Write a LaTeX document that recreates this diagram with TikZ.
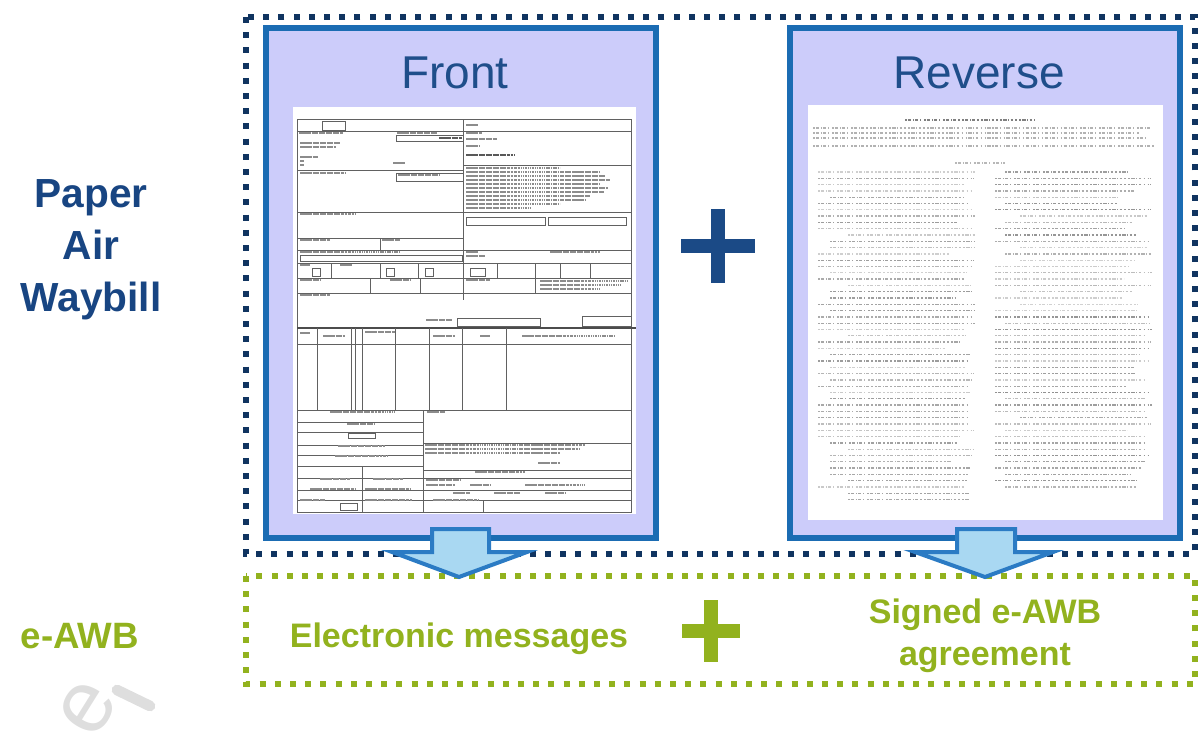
\documentclass[tikz,border=0pt]{standalone}
\usepackage{fontspec}
\setmainfont{Liberation Sans}
\definecolor{navy}{RGB}{16,52,96}
\definecolor{panelblue}{RGB}{27,108,179}
\definecolor{lav}{RGB}{204,204,250}
\definecolor{titleblue}{RGB}{31,78,138}
\definecolor{plusblue}{RGB}{27,74,134}
\definecolor{lblblue}{RGB}{24,69,130}
\definecolor{awbgreen}{RGB}{146,178,30}
\definecolor{arrowfill}{RGB}{169,216,242}
\definecolor{arrowblue}{RGB}{43,123,196}
\begin{document}
\begin{tikzpicture}[x=0.75pt,y=-0.75pt,
  navydots/.style={draw=navy,line width=4.5pt,dash pattern=on 4.5pt off 6.9pt},
  greendots/.style={draw=awbgreen,line width=4pt,dash pattern=on 4.5pt off 6.9pt},
  panel/.style={draw=panelblue,line width=4.5pt,fill=lav,minimum width=292.5pt,minimum height=382.5pt,inner sep=0pt},
  paper/.style={fill=white,draw=none,inner sep=0pt},
  title/.style={text=titleblue,font=\fontsize{34.5}{40}\selectfont,inner sep=0pt},
  leftlbl/.style={text=lblblue,font=\bfseries\fontsize{30.5}{39}\selectfont,align=center,inner sep=0pt},
  greenlbl/.style={text=awbgreen,font=\bfseries\fontsize{25.5}{31.5}\selectfont,align=center,inner sep=0pt},
  formline/.style={draw=black!62,line width=0.6pt},
  formthick/.style={draw=black!70,line width=1.1pt},
  ftxt/.style={draw=black!45,line width=1.2pt,dash pattern=on 1.2pt off 0.4pt on 2pt off 0.5pt on 0.8pt off 0.4pt},
  revtxt/.style={line width=1pt,dash pattern=on 1.2pt off 0.9pt on 2.6pt off 1.2pt on 0.8pt off 1pt on 2pt off 1.6pt on 1pt off 2pt},
  blockarrow/.style={fill=arrowfill,draw=arrowblue,line width=3pt,line join=miter},
  plusbar/.style={line width=10pt,line cap=butt}]
\useasboundingbox (0,0) rectangle (1201,753);

% watermark
\node[text=black!13,font=\fontsize{66}{66}\selectfont,rotate=58,inner sep=0pt] (wm) at (88,708) {e};
\coordinate (wma) at (117,690);
\coordinate (wmb) at (150,706);
\draw[black!13,line width=8pt,line cap=round] (wma) -- (wmb);

% outer paper dotted frame
\coordinate (pa) at (246,17);
\coordinate (pb) at (1195,554);
\draw[navydots] (pa) rectangle (pb);

% panels
\node[panel] (front) at (461,283) {};
\node[panel] (reverse) at (985,283) {};
\node[title,anchor=base] (ftitle) at (455,88) {Front};
\node[title,anchor=base] (rtitle) at (979,88) {Reverse};

% front document
\node[paper,minimum width=257.25pt,minimum height=305.25pt] (fdoc) at (464.5,310.5) {};
\begin{scope}
\draw[formline] (297,119) rectangle (631,512);
\draw[formline] (463,119) -- (463,300);
\foreach \y in {131,212,250,263,278,293,344,410} \draw[formline] (297,\y) -- (631,\y);
\draw[formline] (297,170) -- (463,170);
\draw[formline] (463,165) -- (631,165);
\draw[formline] (297,238) -- (463,238);
\draw[formline] (380,238) -- (380,250);
\draw[formthick] (297,328) -- (636,328);
\foreach \x in {317,351,355,362,395,429,462,506} \draw[formline] (\x,328) -- (\x,410);
\draw[formline] (423,410) -- (423,512);
\foreach \y in {422,432,445,455,466,478,490,500} \draw[formline] (297,\y) -- (423,\y);
\foreach \y in {443,470,478,490,500} \draw[formline] (423,\y) -- (631,\y);
\draw[formline] (362,466) -- (362,512);
\draw[formline] (483,500) -- (483,512);
\foreach \x in {331,380,418,497,535,560,590} \draw[formline] (\x,263) -- (\x,278);
\foreach \x in {370,420,535} \draw[formline] (\x,278) -- (\x,293);
\draw[formline] (322,121) rectangle (345,130);
\draw[formline] (396,135) rectangle (463,141);
\draw[formline] (396,173) rectangle (463,181);
\draw[formline] (466,217) rectangle (545,225);
\draw[formline] (548,217) rectangle (626,225);
\draw[formline] (300,255) rectangle (462,261);
\draw[formline] (457,318) rectangle (540,326);
\draw[formline] (582,316) rectangle (631,326);
\draw[formline] (312,268) rectangle (320,276);
\draw[formline] (386,268) rectangle (394,276);
\draw[formline] (425,268) rectangle (433,276);
\draw[formline] (470,268) rectangle (485,276);
\draw[formline] (348,433) rectangle (375,438);
\draw[formline] (340,503) rectangle (357,510);
% labels
\draw[ftxt] (299,133) -- (343,133);
\draw[ftxt] (397,133) -- (437,133);
\draw[ftxt,draw=black!65] (439,138) -- (462,138);
\draw[ftxt] (300,143) -- (340,143);
\draw[ftxt] (300,147) -- (336,147);
\draw[ftxt] (300,157) -- (318,157);
\draw[ftxt] (300,161) -- (304,161);
\draw[ftxt] (300,165) -- (304,165);
\draw[ftxt] (393,163) -- (405,163);
\draw[ftxt] (300,173) -- (345,173);
\draw[ftxt] (398,175) -- (440,175);
\draw[ftxt] (466,125) -- (478,125);
\draw[ftxt] (466,133) -- (482,133);
\draw[ftxt,line width=1.6pt] (466,139) -- (497,139);
\draw[ftxt] (466,146) -- (480,146);
\draw[ftxt,draw=black!65,line width=1.5pt] (466,155) -- (515,155);
\foreach \y/\e in {168/560,172/600,176/605,180/610,184/600,188/608,192/604,196/590,200/585,204/560,208/530}
  \draw[ftxt,line width=0.9pt] (466,\y) -- (\e,\y);
\draw[ftxt] (300,214) -- (356,214);
\draw[ftxt] (300,240) -- (330,240);
\draw[ftxt] (382,240) -- (400,240);
\draw[ftxt] (300,252) -- (400,252);
\draw[ftxt] (466,252) -- (478,252);
\draw[ftxt] (550,252) -- (600,252);
\draw[ftxt] (466,256) -- (485,256);
\draw[ftxt] (300,265) -- (310,265);
\draw[ftxt] (340,265) -- (352,265);
\draw[ftxt] (300,280) -- (320,280);
\draw[ftxt] (390,280) -- (410,280);
\draw[ftxt] (466,280) -- (490,280);
\draw[ftxt,line width=0.9pt] (540,281) -- (628,281);
\draw[ftxt,line width=0.9pt] (540,285) -- (620,285);
\draw[ftxt,line width=0.9pt] (540,289) -- (600,289);
\draw[ftxt] (300,295) -- (330,295);
\draw[ftxt] (426,320) -- (452,320);
\draw[ftxt] (300,333) -- (310,333);
\draw[ftxt] (323,336) -- (345,336);
\draw[ftxt] (365,332) -- (395,332);
\draw[ftxt] (433,336) -- (455,336);
\draw[ftxt] (480,336) -- (490,336);
\draw[ftxt] (522,336) -- (615,336);
\draw[ftxt] (330,412) -- (395,412);
\draw[ftxt] (427,412) -- (445,412);
\draw[ftxt] (347,424) -- (375,424);
\draw[ftxt] (338,446) -- (385,446);
\draw[ftxt] (335,456) -- (388,456);
\foreach \y/\e in {445/585,449/580,453/560} \draw[ftxt,line width=0.9pt] (425,\y) -- (\e,\y);
\draw[ftxt] (538,463) -- (560,463);
\draw[ftxt] (475,472) -- (525,472);
\draw[ftxt] (320,479) -- (350,479);
\draw[ftxt] (373,479) -- (403,479);
\draw[ftxt] (426,480) -- (460,480);
\draw[ftxt] (310,489) -- (355,489);
\draw[ftxt] (365,489) -- (410,489);
\draw[ftxt] (426,485) -- (455,485);
\draw[ftxt] (470,485) -- (490,485);
\draw[ftxt] (525,485) -- (585,485);
\draw[ftxt] (453,493) -- (470,493);
\draw[ftxt] (494,493) -- (520,493);
\draw[ftxt] (545,493) -- (565,493);
\draw[ftxt] (300,500) -- (325,500);
\draw[ftxt] (365,500) -- (412,500);
\draw[ftxt] (433,500) -- (478,500);
\end{scope}

% reverse document
\node[paper,minimum width=266.25pt,minimum height=311.25pt] (rdoc) at (985.5,312.5) {};
\begin{scope}
\pgfmathsetseed{17}
\draw[revtxt,draw=black!50] (905,120) -- (1035,120);
\foreach \y in {128,133,138,146} {
  \pgfmathsetmacro{\xe}{1130+25*rnd}
  \draw[revtxt,draw=black!30] (813,\y) -- (\xe,\y);
}
\draw[revtxt,draw=black!28] (955,163) -- (1005,163);
\foreach \i in {0,...,52} {
  \pgfmathsetmacro{\yy}{172+\i*6.3}
  \pgfmathsetmacro{\r}{rnd}
  \pgfmathsetmacro{\xs}{\r<0.65 ? 818 : (\r<0.85 ? 830 : 848)}
  \pgfmathsetmacro{\xe}{975-35*rnd*rnd}
  \pgfmathtruncatemacro{\g}{18+22*rnd}
  \draw[revtxt,draw=black!\g] (\xs,\yy) -- (\xe,\yy);
}
\foreach \i in {0,...,50} {
  \pgfmathsetmacro{\yy}{172+\i*6.3}
  \pgfmathsetmacro{\r}{rnd}
  \pgfmathsetmacro{\xs}{\r<0.6 ? 995 : (\r<0.85 ? 1005 : 1020)}
  \pgfmathsetmacro{\xe}{1152-40*rnd*rnd}
  \pgfmathtruncatemacro{\g}{18+26*rnd}
  \draw[revtxt,draw=black!\g] (\xs,\yy) -- (\xe,\yy);
}
\end{scope}

% blue plus
\coordinate (bp) at (718,246);
\draw[plusblue,plusbar] ([xshift=-27.5pt]bp) -- ([xshift=27.5pt]bp);
\draw[plusblue,plusbar] ([yshift=27.5pt]bp) -- ([yshift=-27.5pt]bp);

% e-AWB dotted frame
\coordinate (ea) at (246,576);
\coordinate (eb) at (1195,684);
\draw[greendots] (ea) rectangle (eb);

% arrows
\draw[blockarrow] (432,529) -- (489,529) -- (489,552) -- (527,552) -- (459,577) -- (392,552) -- (432,552) -- cycle;
\draw[blockarrow] (957,529) -- (1015,529) -- (1015,552) -- (1053,552) -- (985,577) -- (915,552) -- (957,552) -- cycle;

% labels
\node[leftlbl] (pawb) at (91,250) {Paper\\Air\\Waybill};
\node[greenlbl,font=\bfseries\fontsize{27.5}{31.5}\selectfont,anchor=base] (eawb) at (80,648) {e-AWB};
\node[greenlbl,anchor=base] (emsg) at (459,647) {Electronic messages};
\node[greenlbl] (sign) at (985,636) {Signed e-AWB\\agreement};

% green plus
\coordinate (gp) at (711,631);
\draw[awbgreen,plusbar] ([xshift=-21.5pt]gp) -- ([xshift=21.5pt]gp);
\draw[awbgreen,plusbar] ([yshift=23pt]gp) -- ([yshift=-23pt]gp);
\end{tikzpicture}
\end{document}
